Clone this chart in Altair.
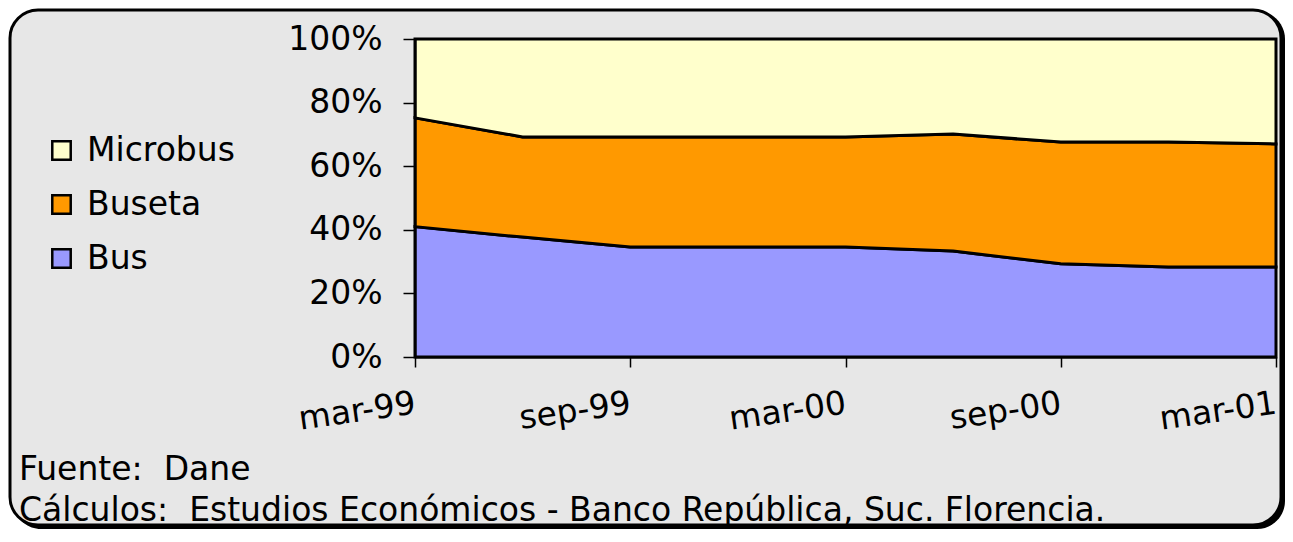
import altair as alt
import pandas as pd

quarters = ["mar-99", "jun-99", "sep-99", "dic-99", "mar-00", "jun-00", "sep-00", "dic-00", "mar-01"]
shown_ticks = ["mar-99", "sep-99", "mar-00", "sep-00", "mar-01"]
series = ["Microbus", "Buseta", "Bus"]
colors = ["#FFFFCC", "#FF9900", "#9999FF"]
stack_rank = {"Bus": 0, "Buseta": 1, "Microbus": 2}

bus = [41.0, 37.7, 34.6, 34.6, 34.6, 33.3, 29.3, 28.3, 28.3]
buseta = [34.2, 31.5, 34.6, 34.6, 34.6, 36.8, 38.3, 39.3, 38.7]
microbus = [24.8, 30.8, 30.8, 30.8, 30.8, 29.9, 32.4, 32.4, 33.0]

footer_lines = ["Fuente:\u00a0 Dane",
                "Cálculos:\u00a0 Estudios Económicos - Banco República, Suc. Florencia."]

rows = []
for name, vals in [("Bus", bus), ("Buseta", buseta), ("Microbus", microbus)]:
    for q, v in zip(quarters, vals):
        rows.append({"trim": q, "serie": name, "valor": v, "rank": stack_rank[name]})
df = pd.DataFrame(rows)

FONT = "DejaVu Sans"
FS = 33

one = pd.DataFrame({"k": [0]})

shadow = alt.Chart(one).mark_rect(cornerRadius=28, fill="black").encode(
    x=alt.value(-402), x2=alt.value(870), y=alt.value(-28), y2=alt.value(490)
)
panel = alt.Chart(one).mark_rect(cornerRadius=28, fill="#e7e7e7", stroke="black", strokeWidth=3).encode(
    x=alt.value(-405), x2=alt.value(866), y=alt.value(-29), y2=alt.value(486)
)

area = alt.Chart(df).mark_area(stroke="black", strokeWidth=3, interpolate="linear").encode(
    x=alt.X("trim:O", sort=quarters, scale=alt.Scale(type="point", padding=0),
            axis=alt.Axis(values=shown_ticks, title=None, labelAngle=-8, labelAlign="right",
                          labelBaseline="middle", labelPadding=36, tickSize=10,
                          tickColor="black", tickWidth=1.5, domainColor="black", domainWidth=2,
                          labelFont=FONT, labelFontSize=FS, labelColor="black",
                          labelOverlap=False, labelFlush=False, labelBound=False, zindex=2)),
    y=alt.Y("valor:Q", stack="normalize", scale=alt.Scale(domain=[0, 1], nice=False),
            axis=alt.Axis(values=[0, 0.2, 0.4, 0.6, 0.8, 1.0], format=".0%", title=None,
                          grid=False, tickSize=12, labelPadding=21, tickColor="black",
                          tickWidth=1.5, domainColor="black", domainWidth=2,
                          labelFont=FONT, labelFontSize=FS, labelColor="black",
                          labelBaseline="middle", zindex=2)),
    color=alt.Color("serie:N", scale=alt.Scale(domain=series, range=colors),
                    legend=alt.Legend(orient="none", legendX=-370, legendY=95, title=None,
                                      symbolType="square", symbolSize=340,
                                      symbolStrokeColor="black", symbolStrokeWidth=2.5,
                                      labelFont=FONT, labelFontSize=FS, labelColor="black",
                                      rowPadding=20, labelOffset=9, padding=0, zindex=2)),
    order=alt.Order("rank:Q", sort="ascending"),
)

footer = alt.Chart(pd.DataFrame({"t": ["\n".join(footer_lines)]})).mark_text(
    align="left", baseline="alphabetic", font=FONT, fontSize=FS, color="black",
    lineBreak="\n", lineHeight=41
).encode(text="t:N", x=alt.value(-396), y=alt.value(441))

chart = alt.layer(shadow, panel, area, footer).properties(
    width=861, height=318,
    padding={"left": 407, "top": 31, "right": 9, "bottom": 172},
    autosize=alt.AutoSizeParams(type="none"),
).configure(background="white").configure_view(stroke=None)

chart.save("out.html", embed_options={"renderer": "svg", "actions": False})
